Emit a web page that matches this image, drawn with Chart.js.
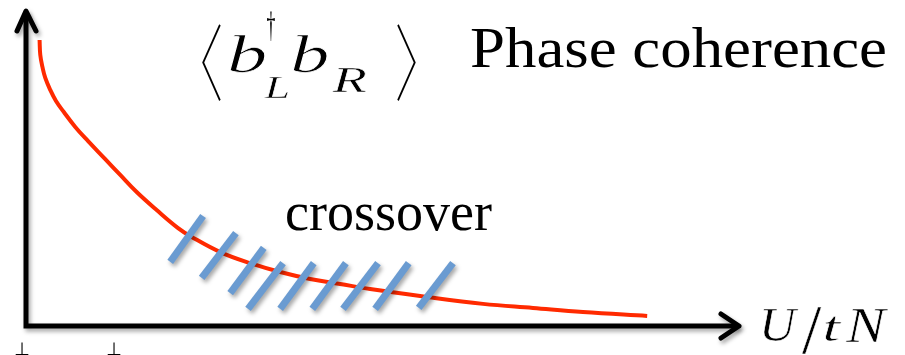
<!DOCTYPE html>
<html>
<head>
<meta charset="utf-8">
<script src="https://cdn.jsdelivr.net/npm/chart.js@4.4.1/dist/chart.umd.min.js"></script>
<style>
  body { margin: 0; background: #fff; }
  #wrap { width: 905px; height: 355px; }
</style>
</head>
<body>
<div id="wrap"><canvas id="grafico" width="905" height="355"></canvas></div>
<script>
// DATOS ------------------------------------------------------------
// red decay curve (x = U/tN, y = <b+L bR>, both in 0..100 units)
const curveX = [1.9, 2.0, 2.3, 2.7, 3.4, 4.2, 5.3, 6.9, 8.7, 11.1, 13.2, 15.5, 18.3, 21.3, 23.2, 27.2, 31.4, 35.6, 39.8, 44.0, 48.2, 55.2, 64.0, 71.0, 78.0, 87.0];
const curveY = [90.5, 85.8, 82.0, 78.5, 74.7, 71.2, 67.7, 63.0, 58.5, 52.8, 47.8, 42.4, 36.7, 31.0, 28.2, 23.4, 19.9, 17.1, 14.9, 13.3, 11.7, 9.5, 7.0, 5.7, 4.4, 3.2];
// blue crossover hatch marks (start / end of each stroke)
const hatchX0 = [20.2, 24.6, 28.6, 31.1, 35.6, 40.1, 44.4, 48.9, 55.0];
const hatchY0 = [20.3, 15.2, 10.4, 5.4, 5.4, 5.4, 5.4, 5.4, 5.7];
const hatchX1 = [24.8, 29.4, 33.3, 36.0, 40.3, 44.8, 49.3, 53.6, 59.8];
const hatchY1 = [34.8, 29.4, 24.7, 19.9, 19.9, 19.9, 19.9, 19.9, 19.9];
// axis range
const xMin = 0, xMax = 100, yMin = 0, yMax = 100;
// DATOS END --------------------------------------------------------

const ROJO = '#ff2a00';
const AZUL = '#6a9bd1';
const SERIF = '"Liberation Serif", "DejaVu Serif", serif';
const FINA = '100 90px "Noto Sans CJK JP", "DejaVu Sans"';

// datasets
const datasets = [{
  label: 'curve',
  data: curveX.map((x, i) => ({ x: x, y: curveY[i] })),
  borderColor: ROJO,
  borderWidth: 4,
  pointRadius: 0,
  tension: 0.4,
  fill: false,
  clip: false,
  order: 1
}];
hatchX0.forEach((x, i) => {
  datasets.push({
    label: 'hatch' + i,
    data: [{ x: x, y: hatchY0[i] }, { x: hatchX1[i], y: hatchY1[i] }],
    borderColor: AZUL,
    borderWidth: 7,
    borderCapStyle: 'butt',
    pointRadius: 0,
    fill: false,
    clip: false,
    order: 0
  });
});

// text at a baseline, optionally stretched to a width
function texto(ctx, str, left, base, font, width, align) {
  ctx.save();
  ctx.font = font;
  ctx.fillStyle = '#000';
  ctx.textBaseline = 'alphabetic';
  ctx.textAlign = align || 'left';
  let sx = 1;
  if (width) sx = width / ctx.measureText(str).width;
  ctx.translate(left, base);
  ctx.scale(sx, 1);
  ctx.fillText(str, 0, 0);
  ctx.restore();
}
// glyph fitted into a box (left, top, right, bottom) using its ink bounds;
// "fino" trims the outline with a white stroke so math letters look light
function caja(ctx, str, font, l, t, r, b, fino) {
  ctx.save();
  ctx.font = font;
  ctx.fillStyle = '#000';
  ctx.textBaseline = 'alphabetic';
  ctx.textAlign = 'left';
  const m = ctx.measureText(str);
  const w = m.actualBoundingBoxLeft + m.actualBoundingBoxRight;
  const h = m.actualBoundingBoxAscent + m.actualBoundingBoxDescent;
  const sx = (r - l) / w, sy = (b - t) / h;
  ctx.translate(l + m.actualBoundingBoxLeft * sx, t + m.actualBoundingBoxAscent * sy);
  ctx.scale(sx, sy);
  ctx.fillText(str, 0, 0);
  if (fino) {
    ctx.strokeStyle = '#fff';
    ctx.lineWidth = fino;
    ctx.lineJoin = 'round';
    ctx.strokeText(str, 0, 0);
  }
  ctx.restore();
}

// shadow on the blue strokes
const sombra = {
  id: 'sombra',
  beforeDatasetDraw(chart, args) {
    const ctx = chart.ctx;
    ctx.save();
    if (args.meta.label && args.meta.label.indexOf('hatch') === 0) {
      ctx.shadowColor = 'rgba(0,0,0,0.35)';
      ctx.shadowBlur = 4;
      ctx.shadowOffsetX = 2;
      ctx.shadowOffsetY = 3;
    }
  },
  afterDatasetDraw(chart) {
    chart.ctx.restore();
  }
};

// axes with arrows + labels
const ejes = {
  id: 'ejes',
  beforeDatasetsDraw(chart) {
    const ctx = chart.ctx;
    const sx = chart.scales.x, sy = chart.scales.y;
    const x0 = sx.getPixelForValue(xMin), x1 = sx.getPixelForValue(xMax);
    const y0 = sy.getPixelForValue(yMin), y1 = sy.getPixelForValue(yMax);
    ctx.save();
    ctx.strokeStyle = '#000';
    ctx.lineWidth = 5;
    ctx.lineJoin = 'miter';
    ctx.lineCap = 'butt';
    ctx.shadowColor = 'rgba(0,0,0,0.35)';
    ctx.shadowBlur = 4;
    ctx.shadowOffsetX = 2;
    ctx.shadowOffsetY = 3;
    ctx.beginPath();
    ctx.moveTo(x0, y1 + 2);
    ctx.lineTo(x0, y0);
    ctx.lineTo(x1 - 2, y0);
    ctx.stroke();
    ctx.lineCap = 'round';
    ctx.lineJoin = 'round';
    ctx.beginPath();
    ctx.moveTo(x0 - 9, y1 + 21);
    ctx.lineTo(x0, y1 + 1);
    ctx.lineTo(x0 + 10, y1 + 21);
    ctx.stroke();
    ctx.beginPath();
    ctx.moveTo(x1 - 19, y0 - 12);
    ctx.lineTo(x1 - 1, y0);
    ctx.lineTo(x1 - 19, y0 + 12);
    ctx.stroke();
    ctx.restore();
  },
  afterDraw(chart) {
    const ctx = chart.ctx;
    // plain texts
    texto(ctx, 'Phase coherence', 470, 67, '56px ' + SERIF, 417);
    texto(ctx, 'crossover', 285, 230, '54px ' + SERIF, 0);
    // U/tN, glyph by glyph
    caja(ctx, 'U', 'italic 52px ' + SERIF, 763, 308, 799, 342, 0.6);
    caja(ctx, '/', '52px ' + SERIF, 802, 305, 822, 354, 0.3);
    caja(ctx, 't', 'italic 52px ' + SERIF, 825, 317, 842, 342, 0.6);
    caja(ctx, 'N', 'italic 52px ' + SERIF, 845, 308, 889, 342, 0.6);
    // <b+_L b_R>
    caja(ctx, '\u3008', FINA, 202, 23, 221, 100);
    caja(ctx, 'b', 'italic 56px ' + SERIF, 230, 35, 266, 73, 0.8);
    caja(ctx, '\u2020', '40px ' + SERIF, 267, 12, 275, 42);
    caja(ctx, 'L', 'italic 32px ' + SERIF, 263, 77, 289, 98, 0.5);
    caja(ctx, 'b', 'italic 56px ' + SERIF, 293, 35, 328, 73, 0.8);
    caja(ctx, 'R', 'italic 36px ' + SERIF, 331, 68, 367, 92, 0.5);
    caja(ctx, '\u3009', FINA, 397, 23, 416, 100);
    // cut-off marks at the bottom edge
    texto(ctx, '\u22A5', 22, 355, '18px "DejaVu Sans"', 0, 'center');
    texto(ctx, '\u22A5', 114, 355, '18px "DejaVu Sans"', 0, 'center');
  }
};

const config = {
  type: 'line',
  data: { datasets: datasets },
  options: {
    responsive: false,
    animation: false,
    devicePixelRatio: 1,
    layout: { padding: { left: 26, right: 165, top: 10, bottom: 29 } },
    plugins: { legend: { display: false }, tooltip: { enabled: false }, title: { display: false } },
    scales: {
      x: { type: 'linear', min: xMin, max: xMax, display: false },
      y: { type: 'linear', min: yMin, max: yMax, display: false }
    }
  },
  plugins: [sombra, ejes]
};
new Chart(document.getElementById('grafico'), config);
</script>
</body>
</html>
